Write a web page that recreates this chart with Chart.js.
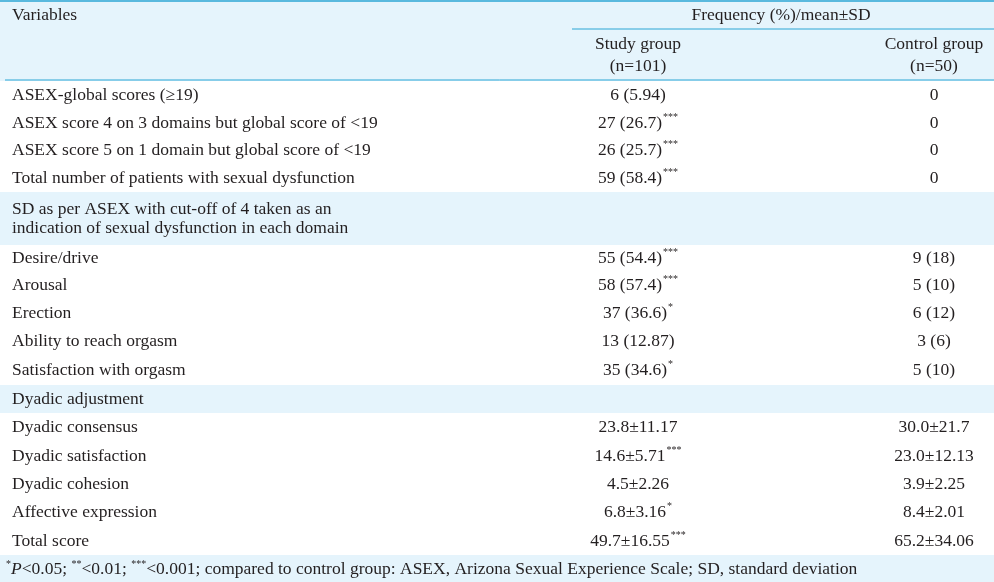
<!DOCTYPE html>
<html>
<head>
<meta charset="utf-8">
<script src="https://cdn.jsdelivr.net/npm/chart.js@4"></script>
<style>
  html, body { margin: 0; padding: 0; background: #fff; }
  #wrap { width: 994px; height: 582px; }
</style>
</head>
<body>
<div id="wrap"><canvas id="tbl"></canvas></div>
<script>
// Table content
const variables = [
  'ASEX-global scores (\u226519)',
  'ASEX score 4 on 3 domains but global score of <19',
  'ASEX score 5 on 1 domain but global score of <19',
  'Total number of patients with sexual dysfunction',
  'SD as per ASEX with cut-off of 4 taken as an\nindication of sexual dysfunction in each domain',
  'Desire/drive', 'Arousal', 'Erection', 'Ability to reach orgasm', 'Satisfaction with orgasm',
  'Dyadic adjustment',
  'Dyadic consensus', 'Dyadic satisfaction', 'Dyadic cohesion', 'Affective expression', 'Total score'
];
const studyGroup = [
  '6 (5.94)', '27 (26.7)', '26 (25.7)', '59 (58.4)', '',
  '55 (54.4)', '58 (57.4)', '37 (36.6)', '13 (12.87)', '35 (34.6)', '',
  '23.8\u00b111.17', '14.6\u00b15.71', '4.5\u00b12.26', '6.8\u00b13.16', '49.7\u00b116.55'
];
const studySig = ['', '***', '***', '***', '', '***', '***', '*', '', '*', '', '', '***', '', '*', '***'];
const controlGroup = [
  '0', '0', '0', '0', '',
  '9 (18)', '5 (10)', '6 (12)', '3 (6)', '5 (10)', '',
  '30.0\u00b121.7', '23.0\u00b112.13', '3.9\u00b12.25', '8.4\u00b12.01', '65.2\u00b134.06'
];
const sectionRows = [4, 10];

// layout (px rows)
const headerH = 81;
const rowH = [28,28,27,28,53,26,28,28,29,29,28,29,28,28,29,28];
const FONT = '17.5px "Liberation Serif", "Times New Roman", serif';
const SUP = '10px "Liberation Serif", serif';
const INK = '#231f20', BAND = '#e5f4fc', RULE = '#2aa6d5';
const COL_STUDY = 638, COL_CTRL = 934, COL_HEAD = 781, X_LEFT = 12;

function supText(ctx, text, sup, cx, y) {
  ctx.font = FONT;
  const w = ctx.measureText(text).width;
  ctx.font = SUP;
  const sw = sup ? ctx.measureText(sup).width + 1 : 0;
  const x0 = cx - (w + sw) / 2;
  ctx.font = FONT; ctx.textAlign = 'left';
  ctx.fillText(text, x0, y);
  if (sup) { ctx.font = SUP; ctx.fillText(sup, x0 + w + 1, y - 6); }
}

const tablePlugin = {
  id: 'table',
  beforeDraw(chart) {
    const ctx = chart.ctx, ys = chart.scales.y, W = chart.width;
    const py = v => ys.getPixelForValue(v);
    ctx.save();
    ctx.textBaseline = 'middle';
    // header
    ctx.fillStyle = BAND; ctx.fillRect(0, py(0), W, py(headerH) - py(0));
    ctx.fillStyle = INK; ctx.font = FONT; ctx.textAlign = 'left';
    ctx.fillText('Variables', X_LEFT, py(15));
    ctx.textAlign = 'center';
    ctx.fillText('Frequency (%)/mean\u00b1SD', COL_HEAD, py(15));
    ctx.fillText('Study group', COL_STUDY, py(44));
    ctx.fillText('(n=101)', COL_STUDY, py(66));
    ctx.fillText('Control group', COL_CTRL, py(44));
    ctx.fillText('(n=50)', COL_CTRL, py(66));
    ctx.strokeStyle = RULE; ctx.lineWidth = 1.5;
    ctx.beginPath(); ctx.moveTo(0, py(0) + 1); ctx.lineTo(W, py(0) + 1); ctx.stroke();
    ctx.lineWidth = 1;
    ctx.beginPath(); ctx.moveTo(572, py(29)); ctx.lineTo(W, py(29)); ctx.stroke();
    ctx.beginPath(); ctx.moveTo(5, py(80)); ctx.lineTo(W, py(80)); ctx.stroke();
    // body
    let top = headerH;
    variables.forEach((v, i) => {
      const h = rowH[i], mid = top + h / 2;
      if (sectionRows.includes(i)) {
        ctx.fillStyle = BAND; ctx.fillRect(0, py(top), W, py(top + h) - py(top));
      }
      ctx.fillStyle = INK; ctx.font = FONT; ctx.textAlign = 'left';
      const lines = v.split('\n');
      lines.forEach((ln, k) => ctx.fillText(ln, X_LEFT, py(mid + (k - (lines.length - 1) / 2) * 19)));
      if (studyGroup[i]) supText(ctx, studyGroup[i], studySig[i], COL_STUDY, py(mid));
      if (controlGroup[i]) { ctx.font = FONT; ctx.textAlign = 'center'; ctx.fillText(controlGroup[i], COL_CTRL, py(mid)); }
      top += h;
    });
    // footnote
    ctx.fillStyle = BAND; ctx.fillRect(0, py(top), W, py(582) - py(top));
    ctx.fillStyle = INK; ctx.textAlign = 'left';
    const fy = py(top + 14);
    let x = 6;
    const seg = (t, f) => { ctx.font = f; ctx.fillText(t, x, f === SUP ? fy - 5 : fy); x += ctx.measureText(t).width; };
    seg('*', SUP);
    seg('P', 'italic 17.5px "Liberation Serif", serif');
    seg('<0.05; ', FONT); seg('**', SUP); seg('<0.01; ', FONT); seg('***', SUP);
    seg('<0.001; compared to control group: ASEX, Arizona Sexual Experience Scale; SD, standard deviation', FONT);
    ctx.restore();
  }
};

new Chart(document.getElementById('tbl'), {
  type: 'scatter',
  data: { datasets: [{ data: [] }] },
  options: {
    responsive: true, maintainAspectRatio: false, animation: false,
    layout: { padding: 0 },
    plugins: { legend: { display: false }, tooltip: { enabled: false } },
    scales: {
      x: { display: false, min: 0, max: 994 },
      y: { display: false, min: 0, max: 582, reverse: true }
    }
  },
  plugins: [tablePlugin]
});
</script>
</body>
</html>
